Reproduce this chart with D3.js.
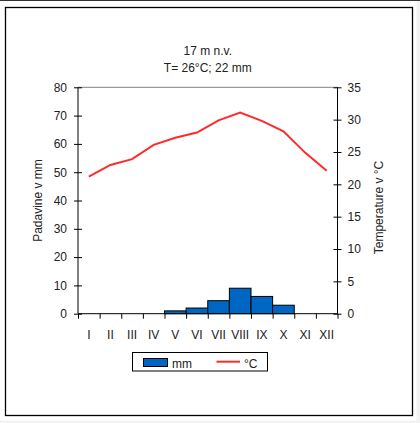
<!DOCTYPE html>
<html>
<head>
<meta charset="utf-8">
<script src="https://cdn.jsdelivr.net/npm/d3@7"></script>
<style>
  body { margin: 0; background: #f2f2f2; }
  svg { display: block; font-family: "Liberation Sans", Arial, sans-serif; }
</style>
</head>
<body>
<div id="chart"></div>
<script>
// months, precipitation (mm) and temperature (°C)
var months = ["I", "II", "III", "IV", "V", "VI", "VII", "VIII", "IX", "X", "XI", "XII"];
var precip = [0, 0, 0, 0, 1, 2, 4.6, 9, 6.1, 3, 0, 0];
var temp = [21.2, 23.0, 23.9, 26.1, 27.2, 28.0, 29.9, 31.1, 29.8, 28.2, 24.9, 22.1];
var mmTicks = [0, 10, 20, 30, 40, 50, 60, 70, 80];
var tTicks = [0, 5, 10, 15, 20, 25, 30, 35];
var titleLines = ["17 m n.v.", "T= 26°C; 22 mm"];

var width = 420, height = 423;
var plot = {left: 78, right: 337.5, top: 87.3, bottom: 313.7};

var svg = d3.select("#chart").append("svg")
    .attr("width", width)
    .attr("height", height);

// page background + frame
svg.append("rect").attr("x", 0).attr("y", 0).attr("width", 416.5).attr("height", 420.5).attr("fill", "#fff");
svg.append("rect").attr("x", 0).attr("y", 0).attr("width", width).attr("height", 1).attr("fill", "#333");
svg.append("rect")
    .attr("x", 5.5).attr("y", 7.5)
    .attr("width", 407).attr("height", 408)
    .attr("fill", "none").attr("stroke", "#000").attr("stroke-width", 1.3);

var x = d3.scaleBand().domain(months).range([plot.left, plot.right]).padding(0);
var xEdge = d3.scaleLinear().domain([0, 12]).range([plot.left, plot.right]);
var yL = d3.scaleLinear().domain([0, 80]).range([plot.bottom, plot.top]);
var yR = d3.scaleLinear().domain([0, 35]).range([plot.bottom, plot.top]);

// title
svg.selectAll(".title").data(titleLines).enter().append("text")
    .attr("class", "title")
    .attr("x", (plot.left + plot.right) / 2)
    .attr("y", function(d, i) { return 55 + i * 17; })
    .attr("text-anchor", "middle")
    .style("font-size", "12px")
    .attr("fill", "#222")
    .text(function(d) { return d; });

// top line of plot area
svg.append("line")
    .attr("x1", plot.left).attr("x2", plot.right)
    .attr("y1", plot.top).attr("y2", plot.top)
    .attr("stroke", "#808080").attr("stroke-width", 1);

// bars
svg.selectAll(".bar")
    .data(months.map(function(m, i) { return {m: m, v: precip[i]}; }).filter(function(d) { return d.v > 0; }))
    .enter().append("rect")
    .attr("class", "bar")
    .attr("x", function(d) { return x(d.m); })
    .attr("width", x.bandwidth())
    .attr("y", function(d) { return yL(d.v); })
    .attr("height", function(d) { return yL(0) - yL(d.v); })
    .attr("fill", "#0066c4")
    .attr("stroke", "#000")
    .attr("stroke-width", 1);

// left axis
var gl = svg.append("g")
    .attr("transform", "translate(" + plot.left + ",0)")
    .call(d3.axisLeft(yL).tickValues(mmTicks).tickSize(4).tickPadding(7));
gl.selectAll(".tick line").attr("x1", 4);
gl.select(".domain").attr("d", "M0," + plot.top + "V" + plot.bottom);

// right axis
var gr = svg.append("g")
    .attr("transform", "translate(" + plot.right + ",0)")
    .call(d3.axisRight(yR).tickValues(tTicks).tickSize(4).tickPadding(6));
gr.selectAll(".tick line").attr("x1", -4);
gr.select(".domain").attr("d", "M0," + plot.top + "V" + plot.bottom);

// bottom axis: ticks on band edges
var gb = svg.append("g")
    .attr("transform", "translate(0," + plot.bottom + ")")
    .call(d3.axisBottom(xEdge).ticks(12).tickSize(5).tickFormat(""));
gb.select(".domain").attr("d", "M" + plot.left + ",0H" + plot.right);

// month labels
var gm = svg.append("g")
    .attr("transform", "translate(0," + plot.bottom + ")")
    .call(d3.axisBottom(x).tickSize(0).tickPadding(17));
gm.select(".domain").remove();

svg.selectAll(".tick text").style("font-size", "12px").attr("fill", "#222")
    .style("font-family", "'Liberation Sans', Arial, sans-serif");
svg.selectAll(".domain, .tick line").attr("stroke", "#000");

// temperature line
var line = d3.line()
    .x(function(d, i) { return x(months[i]) + x.bandwidth() / 2; })
    .y(function(d) { return yR(d); });

svg.append("path")
    .datum(temp)
    .attr("d", line)
    .attr("fill", "none")
    .attr("stroke", "#ff2a2a")
    .attr("stroke-width", 2);

// axis titles
svg.append("text")
    .attr("transform", "translate(41.5," + ((plot.top + plot.bottom) / 2) + ") rotate(-90)")
    .attr("text-anchor", "middle")
    .style("font-size", "12px")
    .attr("fill", "#222")
    .text("Padavine v mm");

svg.append("text")
    .attr("transform", "translate(383," + ((plot.top + plot.bottom) / 2 + 7) + ") rotate(-90)")
    .attr("text-anchor", "middle")
    .style("font-size", "12px")
    .attr("fill", "#222")
    .text("Temperature v °C");

// legend
var lg = svg.append("g");
lg.append("rect")
    .attr("x", 132.5).attr("y", 352.5).attr("width", 135).attr("height", 18.5)
    .attr("fill", "#fff").attr("stroke", "#000").attr("stroke-width", 1);
lg.append("rect")
    .attr("x", 143.5).attr("y", 358.5).attr("width", 24).attr("height", 8)
    .attr("fill", "#0066c4").attr("stroke", "#000").attr("stroke-width", 1);
lg.append("text").attr("x", 172).attr("y", 367.5)
    .style("font-size", "12px").attr("fill", "#222").text("mm");
lg.append("line")
    .attr("x1", 216.5).attr("x2", 240).attr("y1", 361.7).attr("y2", 361.7)
    .attr("stroke", "#ff2a2a").attr("stroke-width", 2);
lg.append("text").attr("x", 244).attr("y", 367.5)
    .style("font-size", "12px").attr("fill", "#222").text("°C");
</script>
</body>
</html>
